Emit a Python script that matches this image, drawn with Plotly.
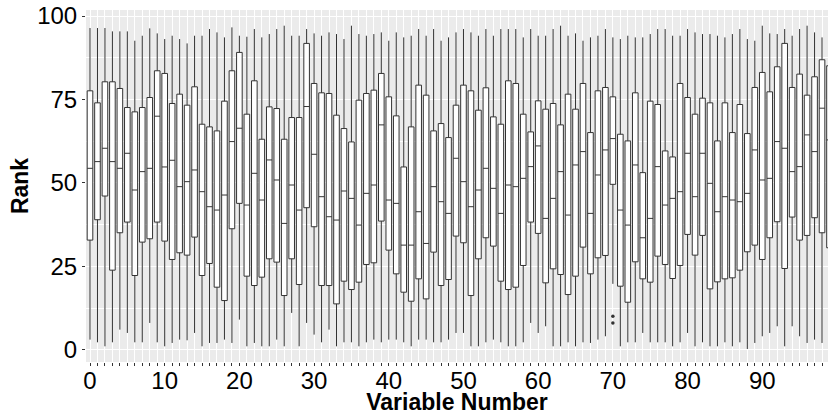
import plotly.graph_objects as go

variables = list(range(100))

whisker_high = [96.4, 96.4, 96.4, 95.4, 95.4, 95.4, 92.6, 94.1, 96.3, 94.8,
                93.1, 94.1, 93.1, 91.8, 94.1, 94.1, 96.1, 95.1, 93.6, 96.6,
                94.1, 93.8, 96.1, 93.6, 94.6, 96.1, 97.1, 94.1, 94.1, 96.1,
                94.8, 94.1, 95.1, 94.6, 93.1, 97.1, 94.6, 94.1, 94.6, 95.1,
                92.6, 95.1, 93.6, 94.1, 96.1, 94.1, 96.1, 92.6, 93.6, 95.1,
                96.1, 95.1, 94.1, 96.1, 94.1, 96.1, 96.1, 96.1, 93.6, 96.1,
                94.1, 94.1, 96.1, 97.1, 94.1, 94.8, 92.6, 93.6, 94.1, 96.1,
                93.6, 93.1, 94.1, 93.6, 93.6, 94.6, 96.1, 96.1, 94.1, 94.1,
                96.1, 95.1, 94.6, 94.6, 94.1, 93.6, 94.6, 96.1, 93.1, 92.6,
                97.1, 94.8, 94.6, 96.1, 94.1, 96.1, 97.1, 95.1, 93.6, 96.0]

q3 = [77.6, 74.0, 80.3, 80.3, 78.3, 72.6, 71.3, 72.6, 75.6, 83.6,
      82.8, 73.8, 76.6, 73.3, 78.8, 67.6, 66.8, 65.6, 74.5, 83.6,
      89.1, 70.6, 80.6, 63.1, 72.8, 72.3, 63.1, 69.6, 69.6, 91.8,
      79.8, 77.0, 76.8, 70.3, 66.3, 62.3, 74.8, 76.8, 77.8, 82.8,
      75.8, 70.1, 54.8, 66.8, 79.3, 76.3, 65.6, 67.8, 63.6, 73.3,
      79.3, 77.6, 71.8, 78.5, 69.8, 67.6, 80.6, 79.8, 70.6, 65.3,
      74.6, 72.1, 73.8, 67.4, 76.6, 72.1, 79.8, 65.1, 77.6, 78.6,
      75.8, 64.6, 62.6, 77.0, 53.1, 74.5, 73.5, 59.6, 57.8, 79.8,
      75.6, 70.6, 75.4, 74.0, 62.6, 74.0, 65.1, 73.5, 64.8, 78.6,
      83.1, 77.3, 84.8, 91.8, 78.6, 82.6, 76.3, 81.8, 86.9, 85.1]

median = [54.4, 56.4, 60.4, 56.4, 54.4, 58.9, 47.9, 53.4, 54.4, 70.0,
          54.8, 56.8, 48.9, 50.4, 53.9, 47.4, 42.9, 41.9, 46.4, 62.4,
          66.4, 43.4, 52.9, 44.9, 56.9, 50.9, 37.9, 49.4, 41.9, 72.9,
          58.6, 45.9, 39.9, 38.9, 47.6, 45.4, 37.4, 46.9, 49.4, 67.4,
          44.9, 43.9, 31.4, 31.4, 41.4, 31.9, 48.9, 44.4, 40.9, 57.4,
          50.4, 42.9, 47.9, 54.4, 48.4, 40.9, 49.4, 48.9, 51.4, 54.9,
          61.1, 39.4, 45.4, 53.4, 40.4, 55.4, 59.4, 40.9, 52.4, 59.9,
          63.3, 41.9, 37.4, 55.4, 33.6, 39.4, 54.9, 43.4, 45.4, 47.4,
          58.9, 45.9, 58.9, 49.9, 41.4, 45.9, 44.9, 44.4, 46.9, 59.9,
          50.9, 51.4, 62.4, 60.4, 53.4, 54.9, 64.4, 59.4, 72.4, 62.9]

q1 = [32.9, 39.0, 46.1, 23.9, 35.1, 38.3, 22.3, 32.3, 33.3, 38.3,
      32.6, 27.1, 29.1, 28.4, 33.8, 22.3, 25.9, 18.8, 14.8, 36.3,
      43.9, 22.1, 19.3, 21.8, 27.3, 26.3, 16.3, 27.3, 19.6, 42.6,
      36.9, 19.3, 19.3, 13.8, 20.6, 18.1, 20.3, 25.6, 26.1, 38.6,
      29.9, 22.8, 17.3, 14.6, 21.3, 15.3, 29.3, 19.3, 21.1, 34.1,
      32.1, 16.3, 27.3, 33.6, 31.1, 20.6, 18.1, 18.8, 25.3, 38.3,
      34.9, 20.1, 24.3, 22.6, 16.6, 22.1, 30.8, 22.8, 27.6, 28.3,
      49.6, 19.1, 14.3, 26.4, 21.3, 20.3, 28.1, 25.6, 21.4, 25.3,
      34.6, 28.4, 34.3, 18.3, 20.4, 21.3, 21.6, 23.9, 29.4, 31.4,
      27.1, 33.6, 38.4, 24.4, 39.8, 32.9, 34.3, 39.6, 35.1, 30.6]

whisker_low = [3.1, 2.3, 1.1, 2.3, 6.1, 5.1, 2.3, 2.3, 8.1, 2.3,
               1.1, 2.1, 3.1, 2.9, 5.1, 1.1, 2.1, 2.1, 3.1, 2.1,
               9.1, 1.1, 2.1, 1.1, 1.1, 3.1, 1.1, 11.1, 1.1, 8.1,
               4.6, 2.3, 6.1, 1.1, 2.3, 2.3, 1.1, 2.3, 3.1, 2.3,
               3.1, 3.1, 2.3, 1.1, 3.1, 3.1, 2.3, 2.3, 3.1, 5.1,
               5.1, 1.1, 1.1, 2.3, 3.1, 2.3, 1.1, 1.1, 2.3, 8.1,
               5.1, 7.1, 1.1, 1.1, 2.3, 1.1, 2.3, 2.1, 3.1, 4.1,
               19.8, 1.1, 2.3, 2.3, 5.1, 2.3, 2.3, 2.3, 1.1, 2.3,
               5.1, 1.1, 2.3, 1.1, 1.1, 2.3, 1.1, 2.3, 0.3, 2.1,
               4.1, 5.1, 7.1, 1.1, 7.1, 4.1, 2.1, 3.1, 2.1, 3.0]

outlier_x = [70, 70]
outlier_y = [10.1, 8.1]

x_tick_vals = [0, 10, 20, 30, 40, 50, 60, 70, 80, 90]
y_tick_vals = [0, 25, 50, 75, 100]
y_minor_vals = [12.5, 37.5, 62.5, 87.5]

font_family = "Liberation Sans, Arial, sans-serif"
line_col = "#333333"

fig = go.Figure()
fig.add_trace(go.Box(
    x=variables,
    q1=q1, median=median, q3=q3,
    lowerfence=whisker_low, upperfence=whisker_high,
    width=0.75,
    whiskerwidth=0,
    fillcolor="white",
    line=dict(color=line_col, width=1),
    boxpoints=False,
    showlegend=False,
    hoverinfo="skip",
))
fig.add_trace(go.Scatter(
    x=outlier_x, y=outlier_y, mode="markers",
    marker=dict(color=line_col, size=3.5),
    showlegend=False, hoverinfo="skip",
))

fig.update_layout(
    width=828, height=415,
    margin=dict(l=86, r=0, t=10, b=53),
    paper_bgcolor="white",
    plot_bgcolor="#EBEBEB",
    font=dict(family=font_family, color="black"),
    xaxis=dict(
        range=[-0.535, 98.8],
        tickmode="array", tickvals=x_tick_vals,
        ticks="outside", ticklen=3, tickwidth=1, tickcolor=line_col,
        tickfont=dict(size=24, color="black"),
        ticklabelstandoff=-6,
        showgrid=True, gridcolor="white", gridwidth=1,
        minor=dict(tick0=0, dtick=1, ticks="outside", ticklen=3, tickwidth=1,
                   tickcolor=line_col, showgrid=True, gridcolor="white", gridwidth=1),
        zeroline=False, showline=False, automargin=False,
        title=dict(text="<b>Variable Number</b>", font=dict(size=23), standoff=10),
    ),
    yaxis=dict(
        range=[-3.6, 101.8],
        tickmode="array", tickvals=y_tick_vals,
        ticks="outside", ticklen=3, tickwidth=1, tickcolor=line_col,
        tickfont=dict(size=24, color="black"),
        showgrid=True, gridcolor="white", gridwidth=1.1,
        minor=dict(tickvals=y_minor_vals, showgrid=True,
                   gridcolor="white", gridwidth=0.5, ticks=""),
        zeroline=False, showline=False, automargin=False,
        title=dict(text="<b>Rank</b>", font=dict(size=23), standoff=2),
    ),
)

fig.write_html("out.html", config={"displayModeBar": False},
               post_script="document.body.style.margin='0';")
